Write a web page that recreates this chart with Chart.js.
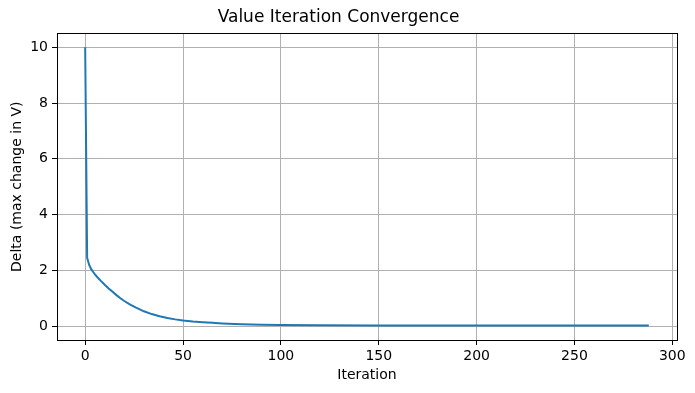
<!DOCTYPE html>
<html>
<head>
<meta charset="utf-8">
<title>Value Iteration Convergence</title>
<script src="https://cdn.jsdelivr.net/npm/chart.js@4.4.1/dist/chart.umd.min.js"></script>
<style>
  html, body { margin: 0; padding: 0; background: #fff; }
  #wrap { width: 695px; height: 393px; }
</style>
</head>
<body>
<div id="wrap"><canvas id="chart" width="695" height="393"></canvas></div>
<script>
// values (iteration -> max change in V)
const iterations = [0, 1, 2, 3, 4, 5, 6, 8, 10, 12, 14, 16, 18, 20, 23, 26, 30, 34, 38, 42, 46, 50, 55, 60, 65, 70, 80, 90, 100, 120, 150, 200, 250, 288];
const deltas = [10, 2.45, 2.2, 2.05, 1.95, 1.85, 1.77, 1.62, 1.48, 1.35, 1.23, 1.11, 1.0, 0.9, 0.77, 0.66, 0.53, 0.43, 0.35, 0.29, 0.24, 0.2, 0.165, 0.14, 0.115, 0.095, 0.067, 0.05, 0.04, 0.03, 0.024, 0.021, 0.02, 0.02];

const xTicks = [0, 50, 100, 150, 200, 250, 300];
const yTicks = [0, 2, 4, 6, 8, 10];

const FONT = 'DejaVu Sans';

// matplotlib style full box around the plot area
const frame = {
    id: 'frame',
    afterDraw(chart) {
        const { ctx, chartArea: a } = chart;
        ctx.save();
        ctx.strokeStyle = '#000';
        ctx.lineWidth = 1;
        ctx.strokeRect(Math.round(a.left) + 0.5, Math.round(a.top) + 0.5,
            Math.round(a.right - a.left), Math.round(a.bottom - a.top));
        ctx.restore();
    }
};

const points = iterations.map((x, i) => ({ x: x, y: deltas[i] }));

new Chart(document.getElementById('chart').getContext('2d'), {
    type: 'line',
    data: {
        datasets: [{
            data: points,
            borderColor: '#1f77b4',
            borderWidth: 2,
            pointRadius: 0,
            tension: 0,
            fill: false
        }]
    },
    options: {
        responsive: false,
        animation: false,
        events: [],
        layout: { padding: { left: 0, right: 18, top: 0, bottom: 0 } },
        plugins: {
            legend: { display: false },
            tooltip: { enabled: false },
            title: {
                display: true,
                text: 'Value Iteration Convergence',
                color: '#000',
                font: { family: FONT, size: 17, weight: 'normal' },
                padding: { top: 7, bottom: 6 }
            }
        },
        scales: {
            x: {
                type: 'linear',
                min: -14.4,
                max: 302.4,
                afterBuildTicks: s => { s.ticks = xTicks.map(v => ({ value: v })); },
                afterFit: s => { s.height = 53; },
                grid: { color: '#b0b0b0', tickColor: '#000', tickLength: 5, lineWidth: 1 },
                border: { display: false },
                ticks: {
                    color: '#000',
                    font: { family: FONT, size: 14 },
                    padding: 3,
                    maxRotation: 0
                },
                title: {
                    display: true,
                    text: 'Iteration',
                    color: '#000',
                    font: { family: FONT, size: 14 },
                    padding: { top: 0, bottom: 9 }
                }
            },
            y: {
                type: 'linear',
                min: -0.5,
                max: 10.5,
                afterBuildTicks: s => { s.ticks = yTicks.map(v => ({ value: v })); },
                afterFit: s => { s.width = 57; },
                grid: { color: '#b0b0b0', tickColor: '#000', tickLength: 5, lineWidth: 1 },
                border: { display: false },
                ticks: {
                    color: '#000',
                    font: { family: FONT, size: 14 },
                    padding: 4
                },
                title: {
                    display: true,
                    text: 'Delta (max change in V)',
                    color: '#000',
                    font: { family: FONT, size: 14 },
                    padding: { top: 9, bottom: 0 }
                }
            }
        }
    },
    plugins: [frame]
});
</script>
</body>
</html>
